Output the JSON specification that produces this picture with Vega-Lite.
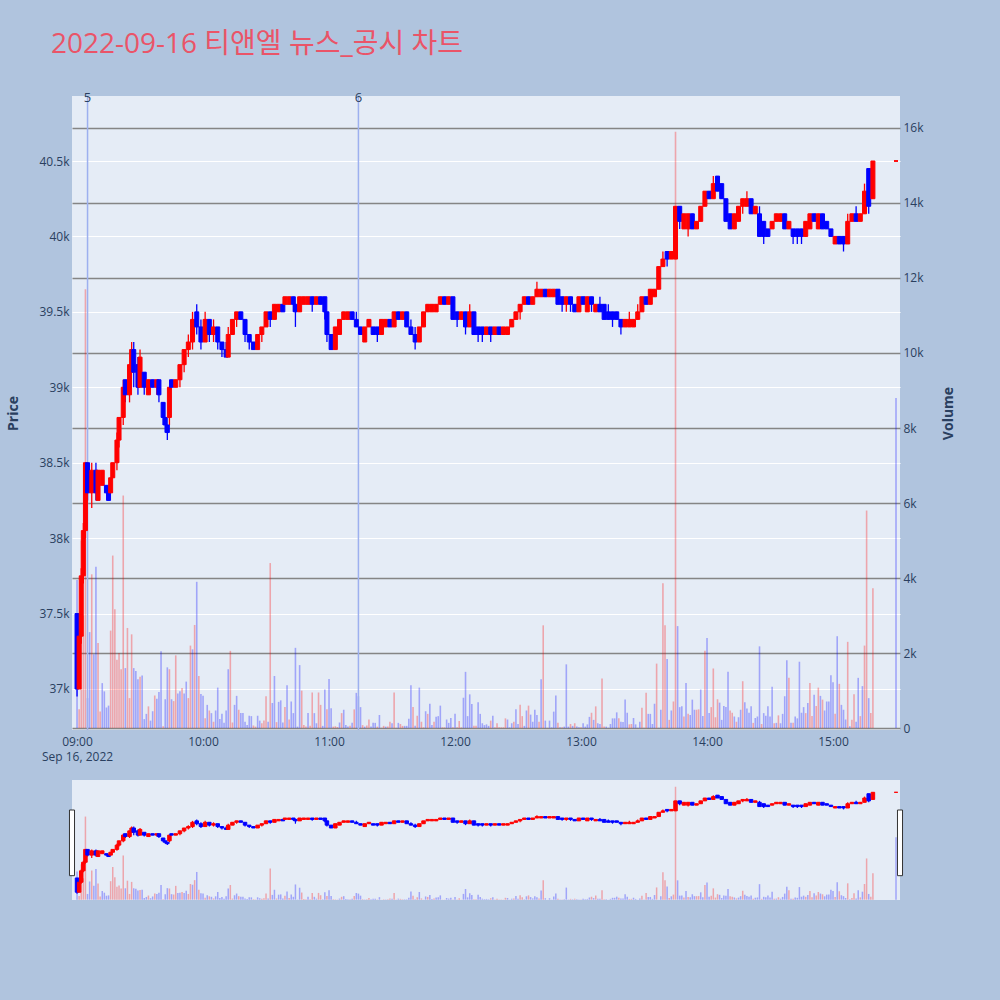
{
  "$schema": "https://vega.github.io/schema/vega-lite/v6.json",
  "background": "#b0c4de",
  "padding": {"left": 6, "top": 30, "right": 44, "bottom": 100},
  "title": {
    "text": "2022-09-16 티앤엘 뉴스_공시 차트",
    "anchor": "start",
    "frame": "bounds",
    "font": "Open Sans, Noto Sans CJK KR",
    "fontSize": 28,
    "fontWeight": "normal",
    "color": "#ea5468",
    "dx": 44,
    "offset": 33
  },
  "datasets": {
    "news": [
      {"t": "09:05", "label": "5"},
      {"t": "11:14", "label": "6"}
    ],
    "candles": [
      {"t":"09:00","o":37500,"h":37500,"l":36950,"c":37000},
      {"t":"09:01","o":37000,"h":37400,"l":37000,"c":37350},
      {"t":"09:02","o":37350,"h":37800,"l":37300,"c":37750},
      {"t":"09:03","o":37750,"h":38100,"l":37700,"c":38050},
      {"t":"09:04","o":38050,"h":38500,"l":38000,"c":38500},
      {"t":"09:05","o":38500,"h":38500,"l":38250,"c":38300},
      {"t":"09:07","o":38300,"h":38500,"l":38200,"c":38450},
      {"t":"09:09","o":38450,"h":38500,"l":38250,"c":38300},
      {"t":"09:10","o":38250,"h":38450,"l":38250,"c":38450},
      {"t":"09:12","o":38350,"h":38450,"l":38350,"c":38450},
      {"t":"09:14","o":38350,"h":38350,"l":38300,"c":38300},
      {"t":"09:15","o":38300,"h":38300,"l":38250,"c":38250},
      {"t":"09:16","o":38300,"h":38400,"l":38300,"c":38400},
      {"t":"09:17","o":38400,"h":38500,"l":38400,"c":38500},
      {"t":"09:19","o":38500,"h":38700,"l":38450,"c":38650},
      {"t":"09:20","o":38650,"h":38800,"l":38600,"c":38800},
      {"t":"09:22","o":38800,"h":39050,"l":38750,"c":39000},
      {"t":"09:23","o":39050,"h":39050,"l":38900,"c":38950},
      {"t":"09:25","o":38950,"h":39150,"l":38900,"c":39150},
      {"t":"09:26","o":39100,"h":39300,"l":39100,"c":39250},
      {"t":"09:27","o":39250,"h":39300,"l":39000,"c":39100},
      {"t":"09:29","o":39150,"h":39200,"l":38950,"c":39000},
      {"t":"09:30","o":39000,"h":39250,"l":39000,"c":39200},
      {"t":"09:32","o":39100,"h":39100,"l":38950,"c":39000},
      {"t":"09:34","o":38950,"h":39050,"l":38950,"c":39050},
      {"t":"09:36","o":39050,"h":39050,"l":39000,"c":39000},
      {"t":"09:38","o":39000,"h":39050,"l":38950,"c":39050},
      {"t":"09:39","o":39050,"h":39050,"l":38900,"c":38950},
      {"t":"09:41","o":38900,"h":38900,"l":38750,"c":38800},
      {"t":"09:42","o":38800,"h":38800,"l":38700,"c":38750},
      {"t":"09:43","o":38750,"h":38750,"l":38650,"c":38700},
      {"t":"09:44","o":38800,"h":39000,"l":38750,"c":39000},
      {"t":"09:45","o":39050,"h":39050,"l":39000,"c":39000},
      {"t":"09:47","o":39000,"h":39050,"l":39000,"c":39050},
      {"t":"09:49","o":39050,"h":39150,"l":39000,"c":39150},
      {"t":"09:51","o":39150,"h":39250,"l":39100,"c":39250},
      {"t":"09:53","o":39250,"h":39350,"l":39200,"c":39300},
      {"t":"09:55","o":39300,"h":39500,"l":39250,"c":39450},
      {"t":"09:57","o":39500,"h":39550,"l":39350,"c":39400},
      {"t":"09:59","o":39400,"h":39450,"l":39250,"c":39300},
      {"t":"10:01","o":39300,"h":39500,"l":39300,"c":39450},
      {"t":"10:03","o":39450,"h":39450,"l":39300,"c":39350},
      {"t":"10:05","o":39350,"h":39450,"l":39300,"c":39400},
      {"t":"10:07","o":39400,"h":39400,"l":39250,"c":39300},
      {"t":"10:09","o":39300,"h":39300,"l":39200,"c":39250},
      {"t":"10:11","o":39250,"h":39300,"l":39200,"c":39200},
      {"t":"10:12","o":39200,"h":39400,"l":39200,"c":39350},
      {"t":"10:14","o":39350,"h":39450,"l":39350,"c":39450},
      {"t":"10:16","o":39450,"h":39500,"l":39400,"c":39500},
      {"t":"10:18","o":39500,"h":39500,"l":39450,"c":39450},
      {"t":"10:20","o":39450,"h":39450,"l":39300,"c":39350},
      {"t":"10:22","o":39350,"h":39350,"l":39250,"c":39300},
      {"t":"10:24","o":39300,"h":39300,"l":39250,"c":39250},
      {"t":"10:26","o":39250,"h":39350,"l":39250,"c":39350},
      {"t":"10:28","o":39350,"h":39400,"l":39300,"c":39400},
      {"t":"10:30","o":39400,"h":39500,"l":39400,"c":39500},
      {"t":"10:32","o":39500,"h":39500,"l":39400,"c":39450},
      {"t":"10:34","o":39450,"h":39550,"l":39450,"c":39550},
      {"t":"10:36","o":39500,"h":39550,"l":39500,"c":39550},
      {"t":"10:38","o":39550,"h":39550,"l":39500,"c":39500},
      {"t":"10:39","o":39550,"h":39600,"l":39550,"c":39600},
      {"t":"10:41","o":39550,"h":39600,"l":39550,"c":39600},
      {"t":"10:43","o":39600,"h":39600,"l":39500,"c":39550},
      {"t":"10:44","o":39550,"h":39550,"l":39400,"c":39500},
      {"t":"10:46","o":39500,"h":39600,"l":39500,"c":39600},
      {"t":"10:48","o":39550,"h":39600,"l":39550,"c":39600},
      {"t":"10:50","o":39550,"h":39600,"l":39550,"c":39600},
      {"t":"10:52","o":39600,"h":39600,"l":39500,"c":39550},
      {"t":"10:54","o":39550,"h":39600,"l":39550,"c":39600},
      {"t":"10:56","o":39600,"h":39600,"l":39550,"c":39550},
      {"t":"10:58","o":39600,"h":39600,"l":39450,"c":39500},
      {"t":"10:59","o":39500,"h":39500,"l":39300,"c":39350},
      {"t":"11:01","o":39350,"h":39350,"l":39250,"c":39250},
      {"t":"11:03","o":39250,"h":39400,"l":39250,"c":39400},
      {"t":"11:05","o":39350,"h":39450,"l":39350,"c":39450},
      {"t":"11:07","o":39450,"h":39500,"l":39450,"c":39500},
      {"t":"11:09","o":39450,"h":39500,"l":39450,"c":39500},
      {"t":"11:11","o":39500,"h":39500,"l":39450,"c":39450},
      {"t":"11:13","o":39450,"h":39500,"l":39400,"c":39400},
      {"t":"11:15","o":39400,"h":39400,"l":39350,"c":39350},
      {"t":"11:17","o":39300,"h":39400,"l":39300,"c":39400},
      {"t":"11:19","o":39400,"h":39450,"l":39400,"c":39450},
      {"t":"11:21","o":39400,"h":39400,"l":39350,"c":39350},
      {"t":"11:23","o":39400,"h":39400,"l":39300,"c":39350},
      {"t":"11:25","o":39350,"h":39450,"l":39350,"c":39450},
      {"t":"11:27","o":39400,"h":39450,"l":39400,"c":39450},
      {"t":"11:29","o":39450,"h":39450,"l":39400,"c":39400},
      {"t":"11:31","o":39400,"h":39500,"l":39400,"c":39500},
      {"t":"11:33","o":39500,"h":39500,"l":39450,"c":39450},
      {"t":"11:35","o":39450,"h":39500,"l":39450,"c":39500},
      {"t":"11:37","o":39500,"h":39500,"l":39400,"c":39400},
      {"t":"11:39","o":39400,"h":39450,"l":39350,"c":39350},
      {"t":"11:41","o":39350,"h":39400,"l":39250,"c":39300},
      {"t":"11:43","o":39300,"h":39400,"l":39300,"c":39400},
      {"t":"11:45","o":39400,"h":39500,"l":39400,"c":39500},
      {"t":"11:47","o":39500,"h":39550,"l":39500,"c":39550},
      {"t":"11:49","o":39500,"h":39550,"l":39500,"c":39550},
      {"t":"11:51","o":39500,"h":39550,"l":39500,"c":39550},
      {"t":"11:53","o":39550,"h":39600,"l":39550,"c":39600},
      {"t":"11:55","o":39600,"h":39600,"l":39550,"c":39550},
      {"t":"11:57","o":39550,"h":39600,"l":39550,"c":39600},
      {"t":"11:59","o":39600,"h":39600,"l":39450,"c":39450},
      {"t":"12:01","o":39500,"h":39500,"l":39400,"c":39450},
      {"t":"12:03","o":39450,"h":39500,"l":39450,"c":39500},
      {"t":"12:05","o":39500,"h":39500,"l":39350,"c":39400},
      {"t":"12:07","o":39400,"h":39550,"l":39400,"c":39500},
      {"t":"12:09","o":39500,"h":39500,"l":39350,"c":39350},
      {"t":"12:11","o":39400,"h":39400,"l":39300,"c":39350},
      {"t":"12:13","o":39400,"h":39400,"l":39300,"c":39350},
      {"t":"12:15","o":39350,"h":39400,"l":39350,"c":39400},
      {"t":"12:17","o":39400,"h":39400,"l":39300,"c":39350},
      {"t":"12:19","o":39350,"h":39400,"l":39350,"c":39400},
      {"t":"12:21","o":39400,"h":39400,"l":39350,"c":39350},
      {"t":"12:23","o":39350,"h":39400,"l":39350,"c":39400},
      {"t":"12:25","o":39350,"h":39400,"l":39350,"c":39400},
      {"t":"12:27","o":39400,"h":39450,"l":39400,"c":39450},
      {"t":"12:29","o":39450,"h":39500,"l":39450,"c":39500},
      {"t":"12:31","o":39500,"h":39550,"l":39450,"c":39550},
      {"t":"12:33","o":39550,"h":39600,"l":39550,"c":39600},
      {"t":"12:35","o":39600,"h":39600,"l":39550,"c":39550},
      {"t":"12:37","o":39550,"h":39600,"l":39550,"c":39600},
      {"t":"12:39","o":39600,"h":39700,"l":39600,"c":39650},
      {"t":"12:41","o":39600,"h":39650,"l":39600,"c":39650},
      {"t":"12:43","o":39650,"h":39650,"l":39600,"c":39600},
      {"t":"12:45","o":39600,"h":39650,"l":39600,"c":39650},
      {"t":"12:47","o":39600,"h":39650,"l":39600,"c":39650},
      {"t":"12:49","o":39650,"h":39650,"l":39550,"c":39550},
      {"t":"12:51","o":39600,"h":39600,"l":39500,"c":39550},
      {"t":"12:53","o":39550,"h":39600,"l":39500,"c":39600},
      {"t":"12:55","o":39600,"h":39600,"l":39500,"c":39550},
      {"t":"12:57","o":39550,"h":39550,"l":39500,"c":39500},
      {"t":"12:59","o":39500,"h":39600,"l":39500,"c":39600},
      {"t":"13:01","o":39600,"h":39600,"l":39550,"c":39550},
      {"t":"13:03","o":39500,"h":39600,"l":39500,"c":39600},
      {"t":"13:05","o":39600,"h":39600,"l":39500,"c":39550},
      {"t":"13:07","o":39500,"h":39550,"l":39500,"c":39550},
      {"t":"13:09","o":39550,"h":39600,"l":39500,"c":39500},
      {"t":"13:11","o":39550,"h":39550,"l":39450,"c":39450},
      {"t":"13:13","o":39500,"h":39550,"l":39450,"c":39450},
      {"t":"13:15","o":39500,"h":39500,"l":39400,"c":39450},
      {"t":"13:17","o":39500,"h":39500,"l":39450,"c":39450},
      {"t":"13:19","o":39450,"h":39450,"l":39350,"c":39400},
      {"t":"13:21","o":39400,"h":39450,"l":39400,"c":39450},
      {"t":"13:23","o":39400,"h":39500,"l":39400,"c":39450},
      {"t":"13:25","o":39400,"h":39450,"l":39400,"c":39450},
      {"t":"13:27","o":39450,"h":39550,"l":39450,"c":39500},
      {"t":"13:29","o":39500,"h":39600,"l":39500,"c":39600},
      {"t":"13:31","o":39600,"h":39600,"l":39550,"c":39550},
      {"t":"13:33","o":39550,"h":39650,"l":39550,"c":39650},
      {"t":"13:35","o":39600,"h":39650,"l":39600,"c":39650},
      {"t":"13:37","o":39650,"h":39800,"l":39650,"c":39800},
      {"t":"13:39","o":39800,"h":39900,"l":39800,"c":39850},
      {"t":"13:41","o":39900,"h":39900,"l":39800,"c":39850},
      {"t":"13:43","o":39850,"h":39900,"l":39850,"c":39900},
      {"t":"13:45","o":39850,"h":40200,"l":39850,"c":40200},
      {"t":"13:47","o":40200,"h":40200,"l":40050,"c":40100},
      {"t":"13:49","o":40050,"h":40150,"l":40050,"c":40150},
      {"t":"13:51","o":40050,"h":40150,"l":40000,"c":40150},
      {"t":"13:53","o":40150,"h":40150,"l":40050,"c":40050},
      {"t":"13:55","o":40050,"h":40100,"l":40050,"c":40100},
      {"t":"13:57","o":40100,"h":40200,"l":40100,"c":40200},
      {"t":"13:59","o":40200,"h":40300,"l":40200,"c":40300},
      {"t":"14:01","o":40300,"h":40300,"l":40250,"c":40250},
      {"t":"14:03","o":40250,"h":40400,"l":40250,"c":40350},
      {"t":"14:05","o":40400,"h":40400,"l":40300,"c":40300},
      {"t":"14:07","o":40350,"h":40350,"l":40250,"c":40250},
      {"t":"14:09","o":40250,"h":40250,"l":40100,"c":40100},
      {"t":"14:11","o":40150,"h":40150,"l":40050,"c":40050},
      {"t":"14:13","o":40050,"h":40150,"l":40050,"c":40150},
      {"t":"14:15","o":40100,"h":40200,"l":40100,"c":40200},
      {"t":"14:17","o":40200,"h":40250,"l":40150,"c":40250},
      {"t":"14:19","o":40200,"h":40300,"l":40200,"c":40250},
      {"t":"14:21","o":40250,"h":40250,"l":40150,"c":40150},
      {"t":"14:23","o":40150,"h":40200,"l":40150,"c":40200},
      {"t":"14:25","o":40150,"h":40200,"l":40000,"c":40000},
      {"t":"14:27","o":40100,"h":40100,"l":39950,"c":40000},
      {"t":"14:29","o":40050,"h":40050,"l":40000,"c":40000},
      {"t":"14:31","o":40050,"h":40100,"l":40050,"c":40100},
      {"t":"14:33","o":40100,"h":40150,"l":40100,"c":40150},
      {"t":"14:35","o":40100,"h":40150,"l":40100,"c":40150},
      {"t":"14:37","o":40150,"h":40150,"l":40050,"c":40050},
      {"t":"14:39","o":40050,"h":40100,"l":40050,"c":40100},
      {"t":"14:41","o":40050,"h":40050,"l":39950,"c":40000},
      {"t":"14:43","o":40050,"h":40050,"l":39950,"c":40000},
      {"t":"14:45","o":40050,"h":40050,"l":39950,"c":40000},
      {"t":"14:47","o":40000,"h":40100,"l":40000,"c":40100},
      {"t":"14:49","o":40050,"h":40150,"l":40050,"c":40150},
      {"t":"14:51","o":40150,"h":40150,"l":40100,"c":40100},
      {"t":"14:53","o":40050,"h":40150,"l":40050,"c":40150},
      {"t":"14:55","o":40150,"h":40150,"l":40050,"c":40050},
      {"t":"14:57","o":40100,"h":40100,"l":40050,"c":40050},
      {"t":"14:59","o":40050,"h":40050,"l":40000,"c":40000},
      {"t":"15:01","o":39950,"h":40000,"l":39950,"c":40000},
      {"t":"15:03","o":40000,"h":40000,"l":39950,"c":39950},
      {"t":"15:05","o":40000,"h":40000,"l":39900,"c":39950},
      {"t":"15:07","o":39950,"h":40150,"l":39950,"c":40100},
      {"t":"15:09","o":40100,"h":40150,"l":40100,"c":40150},
      {"t":"15:11","o":40150,"h":40200,"l":40100,"c":40100},
      {"t":"15:13","o":40100,"h":40150,"l":40100,"c":40150},
      {"t":"15:15","o":40150,"h":40350,"l":40150,"c":40300},
      {"t":"15:17","o":40450,"h":40450,"l":40150,"c":40200},
      {"t":"15:19","o":40250,"h":40500,"l":40250,"c":40500},
      {"t":"15:30","o":40500,"h":40500,"l":40500,"c":40500}
    ],
    "vol": [
      {"t":"09:00","v":3950,"dir":"d"},{"t":"09:01","v":500,"dir":"u"},{"t":"09:02","v":5000,"dir":"u"},{"t":"09:03","v":3000,"dir":"u"},
      {"t":"09:04","v":11700,"dir":"u"},{"t":"09:05","v":800,"dir":"d"},{"t":"09:06","v":2560,"dir":"d"},{"t":"09:07","v":4100,"dir":"u"},
      {"t":"09:08","v":1970,"dir":"d"},{"t":"09:09","v":4300,"dir":"d"},{"t":"09:10","v":2270,"dir":"u"},{"t":"09:11","v":440,"dir":"u"},
      {"t":"09:12","v":1200,"dir":"d"},{"t":"09:13","v":980,"dir":"d"},{"t":"09:14","v":550,"dir":"d"},{"t":"09:15","v":600,"dir":"d"},
      {"t":"09:16","v":2600,"dir":"u"},{"t":"09:17","v":4600,"dir":"u"},{"t":"09:18","v":3170,"dir":"u"},{"t":"09:19","v":1820,"dir":"u"},
      {"t":"09:20","v":2000,"dir":"u"},{"t":"09:21","v":1570,"dir":"u"},{"t":"09:22","v":6200,"dir":"u"},{"t":"09:23","v":1600,"dir":"d"},
      {"t":"09:24","v":2670,"dir":"u"},{"t":"09:25","v":800,"dir":"u"},{"t":"09:26","v":2500,"dir":"u"},{"t":"09:27","v":1600,"dir":"d"},
      {"t":"09:28","v":1520,"dir":"d"},{"t":"09:29","v":1300,"dir":"d"},{"t":"09:30","v":1370,"dir":"u"},{"t":"09:31","v":1400,"dir":"d"},
      {"t":"09:32","v":240,"dir":"d"},{"t":"09:33","v":380,"dir":"d"},{"t":"09:34","v":580,"dir":"u"},{"t":"09:35","v":200,"dir":"d"},
      {"t":"09:36","v":450,"dir":"d"},{"t":"09:37","v":870,"dir":"u"},{"t":"09:38","v":780,"dir":"d"},{"t":"09:39","v":960,"dir":"d"},
      {"t":"09:40","v":2050,"dir":"d"},{"t":"09:41","v":50,"dir":"u"},{"t":"09:42","v":770,"dir":"d"},{"t":"09:43","v":1620,"dir":"d"},
      {"t":"09:44","v":1570,"dir":"u"},{"t":"09:45","v":770,"dir":"d"},{"t":"09:46","v":720,"dir":"u"},{"t":"09:47","v":1940,"dir":"u"},
      {"t":"09:48","v":920,"dir":"d"},{"t":"09:49","v":980,"dir":"d"},{"t":"09:50","v":1070,"dir":"u"},{"t":"09:51","v":920,"dir":"d"},
      {"t":"09:52","v":1240,"dir":"d"},{"t":"09:53","v":800,"dir":"u"},{"t":"09:54","v":2200,"dir":"u"},{"t":"09:55","v":2100,"dir":"d"},
      {"t":"09:56","v":2750,"dir":"u"},{"t":"09:57","v":3900,"dir":"d"},{"t":"09:58","v":1390,"dir":"u"},{"t":"09:59","v":910,"dir":"d"},
      {"t":"10:00","v":860,"dir":"d"},{"t":"10:01","v":260,"dir":"u"},{"t":"10:02","v":620,"dir":"d"},{"t":"10:03","v":470,"dir":"u"},
      {"t":"10:04","v":400,"dir":"d"},{"t":"10:05","v":170,"dir":"u"},{"t":"10:06","v":470,"dir":"d"},{"t":"10:07","v":1080,"dir":"d"},
      {"t":"10:08","v":240,"dir":"d"},{"t":"10:09","v":380,"dir":"d"},{"t":"10:10","v":140,"dir":"d"},{"t":"10:11","v":470,"dir":"d"},
      {"t":"10:12","v":1570,"dir":"d"},{"t":"10:13","v":2060,"dir":"u"},{"t":"10:14","v":150,"dir":"u"},{"t":"10:15","v":620,"dir":"d"},
      {"t":"10:16","v":860,"dir":"d"},{"t":"10:17","v":490,"dir":"u"},{"t":"10:18","v":400,"dir":"d"},{"t":"10:19","v":400,"dir":"d"},
      {"t":"10:20","v":170,"dir":"d"},{"t":"10:21","v":80,"dir":"d"},{"t":"10:22","v":330,"dir":"d"},{"t":"10:23","v":320,"dir":"d"},
      {"t":"10:24","v":70,"dir":"u"},{"t":"10:25","v":40,"dir":"u"},{"t":"10:26","v":330,"dir":"d"},{"t":"10:27","v":200,"dir":"d"},
      {"t":"10:28","v":130,"dir":"u"},{"t":"10:29","v":200,"dir":"u"},{"t":"10:30","v":850,"dir":"u"},{"t":"10:31","v":170,"dir":"d"},
      {"t":"10:32","v":4400,"dir":"u"},{"t":"10:33","v":670,"dir":"d"},{"t":"10:34","v":1390,"dir":"d"},{"t":"10:35","v":160,"dir":"u"},
      {"t":"10:36","v":700,"dir":"d"},{"t":"10:37","v":740,"dir":"d"},{"t":"10:38","v":150,"dir":"d"},{"t":"10:39","v":560,"dir":"u"},
      {"t":"10:40","v":1140,"dir":"d"},{"t":"10:41","v":230,"dir":"u"},{"t":"10:42","v":710,"dir":"d"},{"t":"10:43","v":400,"dir":"d"},
      {"t":"10:44","v":2140,"dir":"d"},{"t":"10:45","v":40,"dir":"d"},{"t":"10:46","v":1680,"dir":"d"},{"t":"10:47","v":1000,"dir":"u"},
      {"t":"10:48","v":80,"dir":"u"},{"t":"10:49","v":40,"dir":"u"},{"t":"10:50","v":400,"dir":"d"},{"t":"10:51","v":60,"dir":"u"},
      {"t":"10:52","v":950,"dir":"u"},{"t":"10:53","v":400,"dir":"d"},{"t":"10:54","v":130,"dir":"d"},{"t":"10:55","v":950,"dir":"u"},
      {"t":"10:56","v":620,"dir":"u"},{"t":"10:57","v":60,"dir":"d"},{"t":"10:58","v":1030,"dir":"d"},{"t":"10:59","v":500,"dir":"u"},
      {"t":"11:00","v":1310,"dir":"d"},{"t":"11:01","v":530,"dir":"d"},{"t":"11:02","v":40,"dir":"u"},{"t":"11:03","v":50,"dir":"u"},
      {"t":"11:04","v":30,"dir":"u"},{"t":"11:05","v":150,"dir":"d"},{"t":"11:06","v":400,"dir":"u"},{"t":"11:07","v":490,"dir":"d"},
      {"t":"11:08","v":80,"dir":"d"},{"t":"11:09","v":40,"dir":"d"},{"t":"11:10","v":60,"dir":"u"},{"t":"11:11","v":140,"dir":"d"},
      {"t":"11:12","v":500,"dir":"u"},{"t":"11:13","v":940,"dir":"d"},{"t":"11:14","v":850,"dir":"d"},{"t":"11:15","v":560,"dir":"d"},
      {"t":"11:16","v":80,"dir":"u"},{"t":"11:17","v":40,"dir":"d"},{"t":"11:18","v":70,"dir":"u"},{"t":"11:19","v":230,"dir":"u"},
      {"t":"11:20","v":40,"dir":"d"},{"t":"11:21","v":140,"dir":"d"},{"t":"11:22","v":140,"dir":"d"},{"t":"11:23","v":40,"dir":"u"},
      {"t":"11:24","v":350,"dir":"d"},{"t":"11:25","v":10,"dir":"u"},{"t":"11:26","v":60,"dir":"u"},{"t":"11:27","v":40,"dir":"d"},
      {"t":"11:28","v":40,"dir":"u"},{"t":"11:29","v":170,"dir":"u"},{"t":"11:30","v":130,"dir":"d"},{"t":"11:31","v":950,"dir":"u"},
      {"t":"11:32","v":10,"dir":"u"},{"t":"11:33","v":140,"dir":"d"},{"t":"11:34","v":110,"dir":"u"},{"t":"11:35","v":60,"dir":"u"},
      {"t":"11:36","v":60,"dir":"d"},{"t":"11:37","v":60,"dir":"d"},{"t":"11:38","v":250,"dir":"d"},{"t":"11:39","v":1140,"dir":"d"},
      {"t":"11:40","v":560,"dir":"u"},{"t":"11:41","v":60,"dir":"d"},{"t":"11:42","v":330,"dir":"u"},{"t":"11:43","v":1080,"dir":"d"},
      {"t":"11:44","v":170,"dir":"u"},{"t":"11:45","v":20,"dir":"u"},{"t":"11:46","v":450,"dir":"d"},{"t":"11:47","v":380,"dir":"u"},
      {"t":"11:48","v":650,"dir":"d"},{"t":"11:49","v":80,"dir":"d"},{"t":"11:50","v":170,"dir":"u"},{"t":"11:51","v":300,"dir":"d"},
      {"t":"11:52","v":320,"dir":"d"},{"t":"11:53","v":600,"dir":"d"},{"t":"11:54","v":20,"dir":"u"},{"t":"11:55","v":20,"dir":"u"},
      {"t":"11:56","v":230,"dir":"d"},{"t":"11:57","v":140,"dir":"d"},{"t":"11:58","v":270,"dir":"d"},{"t":"11:59","v":20,"dir":"u"},
      {"t":"12:00","v":380,"dir":"d"},{"t":"12:01","v":20,"dir":"u"},{"t":"12:02","v":190,"dir":"u"},{"t":"12:03","v":20,"dir":"u"},
      {"t":"12:04","v":810,"dir":"d"},{"t":"12:05","v":1500,"dir":"d"},{"t":"12:06","v":320,"dir":"d"},{"t":"12:07","v":900,"dir":"d"},
      {"t":"12:08","v":640,"dir":"d"},{"t":"12:09","v":60,"dir":"u"},{"t":"12:10","v":60,"dir":"u"},{"t":"12:11","v":690,"dir":"d"},
      {"t":"12:12","v":380,"dir":"d"},{"t":"12:13","v":130,"dir":"d"},{"t":"12:14","v":80,"dir":"d"},{"t":"12:15","v":100,"dir":"d"},
      {"t":"12:16","v":60,"dir":"d"},{"t":"12:17","v":200,"dir":"u"},{"t":"12:18","v":330,"dir":"d"},{"t":"12:19","v":20,"dir":"u"},
      {"t":"12:20","v":130,"dir":"u"},{"t":"12:21","v":20,"dir":"u"},{"t":"12:22","v":20,"dir":"u"},{"t":"12:23","v":20,"dir":"u"},
      {"t":"12:24","v":260,"dir":"u"},{"t":"12:25","v":230,"dir":"d"},{"t":"12:26","v":20,"dir":"d"},{"t":"12:27","v":130,"dir":"d"},
      {"t":"12:28","v":170,"dir":"u"},{"t":"12:29","v":500,"dir":"d"},{"t":"12:30","v":110,"dir":"d"},{"t":"12:31","v":620,"dir":"u"},
      {"t":"12:32","v":320,"dir":"u"},{"t":"12:33","v":60,"dir":"d"},{"t":"12:34","v":470,"dir":"d"},{"t":"12:35","v":600,"dir":"u"},
      {"t":"12:36","v":360,"dir":"d"},{"t":"12:37","v":170,"dir":"d"},{"t":"12:38","v":490,"dir":"d"},{"t":"12:39","v":350,"dir":"d"},
      {"t":"12:40","v":170,"dir":"u"},{"t":"12:41","v":1300,"dir":"d"},{"t":"12:42","v":2740,"dir":"u"},{"t":"12:43","v":200,"dir":"d"},
      {"t":"12:44","v":10,"dir":"u"},{"t":"12:45","v":200,"dir":"d"},{"t":"12:46","v":20,"dir":"d"},{"t":"12:47","v":440,"dir":"d"},
      {"t":"12:48","v":870,"dir":"d"},{"t":"12:49","v":140,"dir":"u"},{"t":"12:50","v":20,"dir":"d"},{"t":"12:51","v":20,"dir":"u"},
      {"t":"12:52","v":40,"dir":"d"},{"t":"12:53","v":1700,"dir":"d"},{"t":"12:54","v":40,"dir":"d"},{"t":"12:55","v":110,"dir":"u"},
      {"t":"12:56","v":60,"dir":"d"},{"t":"12:57","v":130,"dir":"u"},{"t":"12:58","v":40,"dir":"d"},{"t":"12:59","v":20,"dir":"d"},
      {"t":"13:00","v":20,"dir":"u"},{"t":"13:01","v":130,"dir":"d"},{"t":"13:02","v":40,"dir":"d"},{"t":"13:03","v":100,"dir":"d"},
      {"t":"13:04","v":300,"dir":"d"},{"t":"13:05","v":410,"dir":"u"},{"t":"13:06","v":220,"dir":"d"},{"t":"13:07","v":580,"dir":"u"},
      {"t":"13:08","v":130,"dir":"d"},{"t":"13:09","v":110,"dir":"d"},{"t":"13:10","v":1320,"dir":"u"},{"t":"13:11","v":40,"dir":"u"},
      {"t":"13:12","v":40,"dir":"d"},{"t":"13:13","v":10,"dir":"d"},{"t":"13:14","v":110,"dir":"d"},{"t":"13:15","v":260,"dir":"d"},
      {"t":"13:16","v":260,"dir":"d"},{"t":"13:17","v":420,"dir":"d"},{"t":"13:18","v":260,"dir":"u"},{"t":"13:19","v":170,"dir":"d"},
      {"t":"13:20","v":160,"dir":"d"},{"t":"13:21","v":760,"dir":"d"},{"t":"13:22","v":410,"dir":"d"},{"t":"13:23","v":100,"dir":"u"},
      {"t":"13:24","v":110,"dir":"u"},{"t":"13:25","v":270,"dir":"d"},{"t":"13:26","v":100,"dir":"d"},{"t":"13:27","v":10,"dir":"d"},
      {"t":"13:28","v":170,"dir":"d"},{"t":"13:29","v":540,"dir":"u"},{"t":"13:30","v":10,"dir":"d"},{"t":"13:31","v":940,"dir":"u"},
      {"t":"13:32","v":380,"dir":"d"},{"t":"13:33","v":380,"dir":"d"},{"t":"13:34","v":110,"dir":"d"},{"t":"13:35","v":650,"dir":"d"},
      {"t":"13:36","v":1720,"dir":"u"},{"t":"13:37","v":10,"dir":"d"},{"t":"13:38","v":490,"dir":"d"},{"t":"13:39","v":3860,"dir":"u"},
      {"t":"13:40","v":2740,"dir":"u"},{"t":"13:41","v":1840,"dir":"d"},{"t":"13:42","v":220,"dir":"u"},{"t":"13:43","v":470,"dir":"d"},
      {"t":"13:44","v":710,"dir":"u"},{"t":"13:45","v":15900,"dir":"u"},{"t":"13:46","v":2720,"dir":"d"},{"t":"13:47","v":560,"dir":"d"},
      {"t":"13:48","v":580,"dir":"d"},{"t":"13:49","v":310,"dir":"u"},{"t":"13:50","v":1200,"dir":"d"},{"t":"13:51","v":380,"dir":"u"},
      {"t":"13:52","v":350,"dir":"d"},{"t":"13:53","v":760,"dir":"d"},{"t":"13:54","v":490,"dir":"d"},{"t":"13:55","v":490,"dir":"u"},
      {"t":"13:56","v":500,"dir":"u"},{"t":"13:57","v":1030,"dir":"d"},{"t":"13:58","v":320,"dir":"d"},{"t":"13:59","v":2060,"dir":"u"},
      {"t":"14:00","v":2400,"dir":"d"},{"t":"14:01","v":400,"dir":"d"},{"t":"14:02","v":560,"dir":"u"},{"t":"14:03","v":1590,"dir":"u"},
      {"t":"14:04","v":290,"dir":"u"},{"t":"14:05","v":770,"dir":"u"},{"t":"14:06","v":680,"dir":"d"},{"t":"14:07","v":220,"dir":"d"},
      {"t":"14:08","v":590,"dir":"d"},{"t":"14:09","v":560,"dir":"d"},{"t":"14:10","v":1500,"dir":"d"},{"t":"14:11","v":470,"dir":"u"},
      {"t":"14:12","v":410,"dir":"u"},{"t":"14:13","v":310,"dir":"d"},{"t":"14:14","v":170,"dir":"u"},{"t":"14:15","v":290,"dir":"d"},
      {"t":"14:16","v":490,"dir":"d"},{"t":"14:17","v":1250,"dir":"u"},{"t":"14:18","v":690,"dir":"d"},{"t":"14:19","v":520,"dir":"d"},
      {"t":"14:20","v":410,"dir":"d"},{"t":"14:21","v":580,"dir":"d"},{"t":"14:22","v":140,"dir":"u"},{"t":"14:23","v":270,"dir":"d"},
      {"t":"14:24","v":310,"dir":"d"},{"t":"14:25","v":2180,"dir":"d"},{"t":"14:26","v":110,"dir":"u"},{"t":"14:27","v":400,"dir":"d"},
      {"t":"14:28","v":330,"dir":"d"},{"t":"14:29","v":580,"dir":"d"},{"t":"14:30","v":310,"dir":"d"},{"t":"14:31","v":1100,"dir":"d"},
      {"t":"14:32","v":130,"dir":"u"},{"t":"14:33","v":140,"dir":"d"},{"t":"14:34","v":340,"dir":"u"},{"t":"14:35","v":130,"dir":"d"},
      {"t":"14:36","v":380,"dir":"d"},{"t":"14:37","v":850,"dir":"d"},{"t":"14:38","v":1810,"dir":"d"},{"t":"14:39","v":1340,"dir":"u"},
      {"t":"14:40","v":140,"dir":"d"},{"t":"14:41","v":140,"dir":"u"},{"t":"14:42","v":310,"dir":"d"},{"t":"14:43","v":260,"dir":"d"},
      {"t":"14:44","v":1770,"dir":"d"},{"t":"14:45","v":410,"dir":"d"},{"t":"14:46","v":560,"dir":"d"},{"t":"14:47","v":400,"dir":"u"},
      {"t":"14:48","v":670,"dir":"d"},{"t":"14:49","v":1200,"dir":"u"},{"t":"14:50","v":320,"dir":"u"},{"t":"14:51","v":890,"dir":"d"},
      {"t":"14:52","v":590,"dir":"u"},{"t":"14:53","v":1080,"dir":"u"},{"t":"14:54","v":860,"dir":"d"},{"t":"14:55","v":760,"dir":"u"},
      {"t":"14:56","v":470,"dir":"d"},{"t":"14:57","v":710,"dir":"d"},{"t":"14:58","v":710,"dir":"d"},{"t":"14:59","v":1410,"dir":"d"},
      {"t":"15:00","v":1220,"dir":"d"},{"t":"15:01","v":380,"dir":"u"},{"t":"15:02","v":2450,"dir":"d"},{"t":"15:03","v":1180,"dir":"u"},
      {"t":"15:04","v":620,"dir":"d"},{"t":"15:05","v":490,"dir":"d"},{"t":"15:06","v":230,"dir":"d"},{"t":"15:07","v":2300,"dir":"u"},
      {"t":"15:08","v":50,"dir":"d"},{"t":"15:09","v":220,"dir":"u"},{"t":"15:10","v":900,"dir":"u"},{"t":"15:11","v":170,"dir":"d"},
      {"t":"15:12","v":1340,"dir":"d"},{"t":"15:13","v":320,"dir":"u"},{"t":"15:14","v":1120,"dir":"d"},{"t":"15:15","v":2200,"dir":"u"},
      {"t":"15:16","v":5800,"dir":"u"},{"t":"15:17","v":800,"dir":"d"},{"t":"15:18","v":400,"dir":"u"},{"t":"15:19","v":3730,"dir":"u"},
      {"t":"15:30","v":8800,"dir":"d"}
    ]
  },
  "vconcat": [
    {
      "width": 828,
      "height": 634,
      "layer": [
        {
          "data": {"name": "vol"},
          "transform": [{"calculate": "utcParse(datum.t, '%H:%M')", "as": "ts"}],
          "mark": {"type": "bar", "size": 1.6, "opacity": 0.3},
          "encoding": {
            "x": {
              "field": "ts", "type": "temporal",
              "scale": {"type": "utc", "padding": 0, "domain": [
                {"utc": true, "year": 1900, "month": 1, "date": 1, "hours": 8, "minutes": 57, "seconds": 36},
                {"utc": true, "year": 1900, "month": 1, "date": 1, "hours": 15, "minutes": 31, "seconds": 54}
              ]},
              "axis": {
                "title": null,
                "grid": false,
                "values": [
                  {"utc": true, "year": 1900, "month": 1, "date": 1, "hours": 9},
                  {"utc": true, "year": 1900, "month": 1, "date": 1, "hours": 10},
                  {"utc": true, "year": 1900, "month": 1, "date": 1, "hours": 11},
                  {"utc": true, "year": 1900, "month": 1, "date": 1, "hours": 12},
                  {"utc": true, "year": 1900, "month": 1, "date": 1, "hours": 13},
                  {"utc": true, "year": 1900, "month": 1, "date": 1, "hours": 14},
                  {"utc": true, "year": 1900, "month": 1, "date": 1, "hours": 15}
                ],
                "labelExpr": "utcFormat(datum.value, '%H:%M') == '09:00' ? ['09:00', 'Sep 16, 2022'] : utcFormat(datum.value, '%H:%M')",
                "labelFlush": false,
                "labelPadding": 6,
                "labelLineHeight": 15
              }
            },
            "y": {
              "field": "v", "type": "quantitative",
              "scale": {"domain": [-50, 16850], "nice": false, "zero": false},
              "axis": {
                "orient": "right",
                "title": "Volume",
                "titleAngle": 270,
                "titlePadding": 32,
                "values": [0, 2000, 4000, 6000, 8000, 10000, 12000, 14000, 16000],
                "labelExpr": "datum.value == 0 ? '0' : (datum.value / 1000) + 'k'",
                "grid": true,
                "gridColor": "#858585",
                "gridWidth": 1.3,
                "labelPadding": 3
              }
            },
            "color": {
              "field": "dir", "type": "nominal",
              "scale": {"domain": ["u", "d"], "range": ["#ff0000", "#0000ff"]},
              "legend": null
            }
          }
        },
        {
          "data": {"name": "news"},
          "transform": [{"calculate": "utcParse(datum.t, '%H:%M')", "as": "ts"}],
          "mark": {"type": "rule", "color": "#9db0ef", "strokeWidth": 1.5},
          "encoding": {"x": {"field": "ts", "type": "temporal"}}
        },
        {
          "layer": [
            {
              "data": {"name": "candles"},
              "transform": [{"calculate": "utcParse(datum.t, '%H:%M')", "as": "ts"}],
              "mark": {"type": "rule", "strokeWidth": 1.3},
              "encoding": {
                "x": {"field": "ts", "type": "temporal"},
                "y": {
                  "field": "l", "type": "quantitative",
                  "scale": {"domain": [36728, 40931], "nice": false, "zero": false},
                  "axis": {
                    "orient": "left",
                    "title": "Price",
                    "titlePadding": 18,
                    "values": [37000, 37500, 38000, 38500, 39000, 39500, 40000, 40500],
                    "format": "~s",
                    "grid": true,
                    "gridColor": "#ffffff",
                    "gridWidth": 1.2,
                    "labelPadding": 3
                  }
                },
                "y2": {"field": "h"},
                "color": {"condition": {"test": "datum.c >= datum.o", "value": "#ff0000"}, "value": "#0000ff"}
              }
            },
            {
              "data": {"name": "candles"},
              "transform": [{"calculate": "utcParse(datum.t, '%H:%M')", "as": "ts"}],
              "mark": {"type": "bar", "size": 4, "strokeWidth": 1},
              "encoding": {
                "x": {"field": "ts", "type": "temporal"},
                "y": {"field": "o", "type": "quantitative"},
                "y2": {"field": "c"},
                "color": {"condition": {"test": "datum.c >= datum.o", "value": "#ff0000"}, "value": "#0000ff"},
                "stroke": {"condition": {"test": "datum.c >= datum.o", "value": "#ff0000"}, "value": "#0000ff"}
              }
            },
            {
              "data": {"name": "candles"},
              "transform": [
                {"filter": "datum.o == datum.c"},
                {"calculate": "utcParse(datum.t, '%H:%M')", "as": "ts"}
              ],
              "mark": {"type": "tick", "orient": "horizontal", "size": 4, "thickness": 2, "color": "#ff0000"},
              "encoding": {
                "x": {"field": "ts", "type": "temporal"},
                "y": {"field": "o", "type": "quantitative"}
              }
            },
            {
              "data": {"name": "news"},
              "transform": [{"calculate": "utcParse(datum.t, '%H:%M')", "as": "ts"}],
              "mark": {"type": "text", "fontSize": 13, "color": "#2a3f5f", "baseline": "middle"},
              "encoding": {
                "x": {"field": "ts", "type": "temporal"},
                "y": {"datum": 40920},
                "text": {"field": "label"}
              }
            }
          ]
        }
      ],
      "resolve": {"scale": {"y": "independent"}}
    },
    {
      "width": 828,
      "height": 120,
      "layer": [
        {
          "data": {"name": "vol"},
          "transform": [{"calculate": "utcParse(datum.t, '%H:%M')", "as": "ts"}],
          "mark": {"type": "bar", "size": 1.5, "opacity": 0.3},
          "encoding": {
            "x": {
              "field": "ts", "type": "temporal",
              "scale": {"type": "utc", "padding": 0, "domain": [
                {"utc": true, "year": 1900, "month": 1, "date": 1, "hours": 8, "minutes": 57, "seconds": 36},
                {"utc": true, "year": 1900, "month": 1, "date": 1, "hours": 15, "minutes": 31, "seconds": 54}
              ]},
              "axis": null
            },
            "y": {
              "field": "v", "type": "quantitative",
              "scale": {"domain": [-50, 16850], "nice": false, "zero": false},
              "axis": null
            },
            "color": {
              "field": "dir", "type": "nominal",
              "scale": {"domain": ["u", "d"], "range": ["#ff0000", "#0000ff"]},
              "legend": null
            }
          }
        },
        {
          "layer": [
            {
              "data": {"name": "candles"},
              "transform": [{"calculate": "utcParse(datum.t, '%H:%M')", "as": "ts"}],
              "mark": {"type": "rule", "strokeWidth": 1.2},
              "encoding": {
                "x": {"field": "ts", "type": "temporal"},
                "y": {
                  "field": "l", "type": "quantitative",
                  "scale": {"domain": [36728, 40931], "nice": false, "zero": false},
                  "axis": null
                },
                "y2": {"field": "h"},
                "color": {"condition": {"test": "datum.c >= datum.o", "value": "#ff0000"}, "value": "#0000ff"}
              }
            },
            {
              "data": {"name": "candles"},
              "transform": [{"calculate": "utcParse(datum.t, '%H:%M')", "as": "ts"}],
              "mark": {"type": "bar", "size": 3.5, "strokeWidth": 1},
              "encoding": {
                "x": {"field": "ts", "type": "temporal"},
                "y": {"field": "o", "type": "quantitative"},
                "y2": {"field": "c"},
                "color": {"condition": {"test": "datum.c >= datum.o", "value": "#ff0000"}, "value": "#0000ff"},
                "stroke": {"condition": {"test": "datum.c >= datum.o", "value": "#ff0000"}, "value": "#0000ff"}
              }
            },
            {
              "data": {"values": [{}]},
              "mark": {"type": "rect", "fill": "#ffffff", "stroke": "#333333", "strokeWidth": 1},
              "encoding": {
                "x": {"datum": {"utc": true, "year": 1900, "month": 1, "date": 1, "hours": 8, "minutes": 56, "seconds": 24}, "type": "temporal"},
                "x2": {"datum": {"utc": true, "year": 1900, "month": 1, "date": 1, "hours": 8, "minutes": 58, "seconds": 48}},
                "y": {"datum": 39880},
                "y2": {"datum": 37580}
              }
            },
            {
              "data": {"values": [{}]},
              "mark": {"type": "rect", "fill": "#ffffff", "stroke": "#333333", "strokeWidth": 1},
              "encoding": {
                "x": {"datum": {"utc": true, "year": 1900, "month": 1, "date": 1, "hours": 15, "minutes": 30, "seconds": 42}, "type": "temporal"},
                "x2": {"datum": {"utc": true, "year": 1900, "month": 1, "date": 1, "hours": 15, "minutes": 33, "seconds": 6}},
                "y": {"datum": 39880},
                "y2": {"datum": 37580}
              }
            }
          ]
        }
      ],
      "resolve": {"scale": {"y": "independent"}}
    }
  ],
  "spacing": 18,
  "config": {
    "font": "Open Sans",
    "view": {"fill": "#e5ecf6", "stroke": null},
    "axis": {
      "labelFont": "Open Sans",
      "titleFont": "Open Sans",
      "labelFontSize": 12,
      "titleFontSize": 14,
      "titleFontWeight": "bold",
      "labelColor": "#2a3f5f",
      "titleColor": "#2a3f5f",
      "ticks": false,
      "domain": false
    }
  }
}
